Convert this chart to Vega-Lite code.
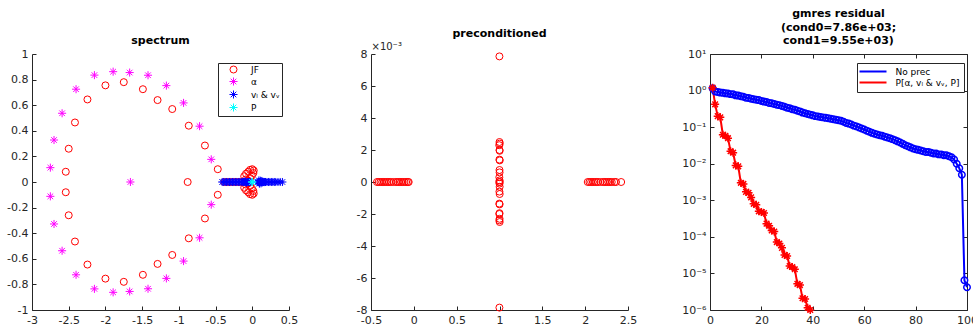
{
  "$schema": "https://vega.github.io/schema/vega-lite/v6.json",
  "padding": {"left": 6, "top": 8, "right": 0, "bottom": 0},
  "bounds": "flush",
  "spacing": 82,
  "datasets": {
    "spectrum": [
      {"series": "JF", "re": -2.0, "im": 0.755}, {"series": "JF", "re": -1.75, "im": 0.78}, {"series": "JF", "re": -1.49, "im": 0.725},
      {"series": "JF", "re": -1.29, "im": 0.64}, {"series": "JF", "re": -1.09, "im": 0.57}, {"series": "JF", "re": -0.865, "im": 0.44},
      {"series": "JF", "re": -0.645, "im": 0.285}, {"series": "JF", "re": -0.47, "im": 0.1}, {"series": "JF", "re": -0.88, "im": 0},
      {"series": "JF", "re": -0.47, "im": -0.1}, {"series": "JF", "re": -0.645, "im": -0.285}, {"series": "JF", "re": -0.865, "im": -0.44},
      {"series": "JF", "re": -1.09, "im": -0.57}, {"series": "JF", "re": -1.29, "im": -0.64}, {"series": "JF", "re": -1.49, "im": -0.725},
      {"series": "JF", "re": -1.75, "im": -0.78}, {"series": "JF", "re": -2.0, "im": -0.755}, {"series": "JF", "re": -2.245, "im": -0.645},
      {"series": "JF", "re": -2.415, "im": -0.465}, {"series": "JF", "re": -2.5, "im": -0.26}, {"series": "JF", "re": -2.54, "im": -0.08},
      {"series": "JF", "re": -2.54, "im": 0.08}, {"series": "JF", "re": -2.5, "im": 0.26}, {"series": "JF", "re": -2.415, "im": 0.465},
      {"series": "JF", "re": -2.245, "im": 0.645},
      {"series": "JF", "re": -0.09, "im": 0.02}, {"series": "JF", "re": -0.11, "im": 0.045}, {"series": "JF", "re": -0.085, "im": 0.065},
      {"series": "JF", "re": -0.055, "im": 0.08}, {"series": "JF", "re": -0.03, "im": 0.095}, {"series": "JF", "re": 0.0, "im": 0.1},
      {"series": "JF", "re": 0.02, "im": 0.09}, {"series": "JF", "re": 0.015, "im": 0.07}, {"series": "JF", "re": -0.005, "im": 0.05},
      {"series": "JF", "re": -0.03, "im": 0.03}, {"series": "JF", "re": -0.06, "im": 0.012},
      {"series": "JF", "re": -0.09, "im": -0.02}, {"series": "JF", "re": -0.11, "im": -0.045}, {"series": "JF", "re": -0.085, "im": -0.065},
      {"series": "JF", "re": -0.055, "im": -0.08}, {"series": "JF", "re": -0.03, "im": -0.095}, {"series": "JF", "re": 0.0, "im": -0.1},
      {"series": "JF", "re": 0.02, "im": -0.09}, {"series": "JF", "re": 0.015, "im": -0.07}, {"series": "JF", "re": -0.005, "im": -0.05},
      {"series": "JF", "re": -0.03, "im": -0.03}, {"series": "JF", "re": -0.06, "im": -0.012},
      {"series": "JF", "re": -0.38, "im": 0}, {"series": "JF", "re": -0.34, "im": 0}, {"series": "JF", "re": -0.3, "im": 0},
      {"series": "JF", "re": -0.26, "im": 0}, {"series": "JF", "re": -0.22, "im": 0}, {"series": "JF", "re": -0.18, "im": 0},
      {"series": "JF", "re": -0.14, "im": 0}, {"series": "JF", "re": -0.1, "im": 0},
      {"series": "α", "re": -2.15, "im": 0.835}, {"series": "α", "re": -1.895, "im": 0.862}, {"series": "α", "re": -1.67, "im": 0.855},
      {"series": "α", "re": -1.42, "im": 0.834}, {"series": "α", "re": -1.17, "im": 0.753}, {"series": "α", "re": -0.936, "im": 0.618},
      {"series": "α", "re": -0.718, "im": 0.436}, {"series": "α", "re": -0.559, "im": 0.177}, {"series": "α", "re": -0.559, "im": -0.177},
      {"series": "α", "re": -0.718, "im": -0.436}, {"series": "α", "re": -0.936, "im": -0.618}, {"series": "α", "re": -1.17, "im": -0.753},
      {"series": "α", "re": -1.42, "im": -0.834}, {"series": "α", "re": -1.67, "im": -0.855}, {"series": "α", "re": -1.895, "im": -0.862},
      {"series": "α", "re": -2.15, "im": -0.835}, {"series": "α", "re": -2.4, "im": -0.725}, {"series": "α", "re": -2.59, "im": -0.537},
      {"series": "α", "re": -2.7, "im": -0.328}, {"series": "α", "re": -2.75, "im": -0.112}, {"series": "α", "re": -2.75, "im": 0.112},
      {"series": "α", "re": -2.7, "im": 0.328}, {"series": "α", "re": -2.59, "im": 0.537}, {"series": "α", "re": -2.4, "im": 0.725},
      {"series": "α", "re": -1.66, "im": 0},
      {"series": "vₗ & vᵥ", "re": -0.41, "im": 0}, {"series": "vₗ & vᵥ", "re": -0.39, "im": 0}, {"series": "vₗ & vᵥ", "re": -0.37, "im": 0},
      {"series": "vₗ & vᵥ", "re": -0.35, "im": 0}, {"series": "vₗ & vᵥ", "re": -0.33, "im": 0}, {"series": "vₗ & vᵥ", "re": -0.31, "im": 0},
      {"series": "vₗ & vᵥ", "re": -0.29, "im": 0}, {"series": "vₗ & vᵥ", "re": -0.27, "im": 0}, {"series": "vₗ & vᵥ", "re": -0.25, "im": 0},
      {"series": "vₗ & vᵥ", "re": -0.23, "im": 0}, {"series": "vₗ & vᵥ", "re": -0.21, "im": 0}, {"series": "vₗ & vᵥ", "re": -0.19, "im": 0},
      {"series": "vₗ & vᵥ", "re": -0.17, "im": 0}, {"series": "vₗ & vᵥ", "re": -0.15, "im": 0}, {"series": "vₗ & vᵥ", "re": -0.13, "im": 0},
      {"series": "vₗ & vᵥ", "re": -0.12, "im": 0}, {"series": "vₗ & vᵥ", "re": -0.11, "im": 0}, {"series": "vₗ & vᵥ", "re": -0.1, "im": 0.006},
      {"series": "vₗ & vᵥ", "re": -0.09, "im": 0}, {"series": "vₗ & vᵥ", "re": -0.08, "im": -0.006}, {"series": "vₗ & vᵥ", "re": -0.07, "im": 0},
      {"series": "vₗ & vᵥ", "re": -0.06, "im": 0}, {"series": "vₗ & vᵥ", "re": -0.05, "im": 0}, {"series": "vₗ & vᵥ", "re": -0.04, "im": 0},
      {"series": "vₗ & vᵥ", "re": -0.03, "im": 0},
      {"series": "vₗ & vᵥ", "re": 0.08, "im": 0}, {"series": "vₗ & vᵥ", "re": 0.085, "im": 0}, {"series": "vₗ & vᵥ", "re": 0.09, "im": 0.012},
      {"series": "vₗ & vᵥ", "re": 0.095, "im": -0.01}, {"series": "vₗ & vᵥ", "re": 0.1, "im": 0}, {"series": "vₗ & vᵥ", "re": 0.1, "im": -0.012},
      {"series": "vₗ & vᵥ", "re": 0.105, "im": 0}, {"series": "vₗ & vᵥ", "re": 0.11, "im": 0.01}, {"series": "vₗ & vᵥ", "re": 0.115, "im": 0},
      {"series": "vₗ & vᵥ", "re": 0.12, "im": -0.01}, {"series": "vₗ & vᵥ", "re": 0.13, "im": 0.008}, {"series": "vₗ & vᵥ", "re": 0.13, "im": 0},
      {"series": "vₗ & vᵥ", "re": 0.14, "im": 0}, {"series": "vₗ & vᵥ", "re": 0.15, "im": 0}, {"series": "vₗ & vᵥ", "re": 0.16, "im": 0},
      {"series": "vₗ & vᵥ", "re": 0.17, "im": 0}, {"series": "vₗ & vᵥ", "re": 0.18, "im": 0}, {"series": "vₗ & vᵥ", "re": 0.2, "im": 0},
      {"series": "vₗ & vᵥ", "re": 0.22, "im": 0}, {"series": "vₗ & vᵥ", "re": 0.24, "im": 0}, {"series": "vₗ & vᵥ", "re": 0.26, "im": 0},
      {"series": "vₗ & vᵥ", "re": 0.28, "im": 0}, {"series": "vₗ & vᵥ", "re": 0.3, "im": 0}, {"series": "vₗ & vᵥ", "re": 0.32, "im": 0},
      {"series": "vₗ & vᵥ", "re": 0.35, "im": 0}, {"series": "vₗ & vᵥ", "re": 0.38, "im": 0}, {"series": "vₗ & vᵥ", "re": 0.41, "im": 0},
      {"series": "P", "re": -0.005, "im": 0}, {"series": "P", "re": 0.0, "im": 0}
    ],
    "precond": [
      {"re": -0.43, "im": 0}, {"re": -0.41, "im": 0}, {"re": -0.39, "im": 0}, {"re": -0.37, "im": 0}, {"re": -0.35, "im": 0},
      {"re": -0.33, "im": 0}, {"re": -0.31, "im": 0}, {"re": -0.29, "im": 0}, {"re": -0.27, "im": 0}, {"re": -0.24, "im": 0},
      {"re": -0.21, "im": 0}, {"re": -0.19, "im": 0}, {"re": -0.17, "im": 0}, {"re": -0.15, "im": 0}, {"re": -0.13, "im": 0},
      {"re": -0.11, "im": 0}, {"re": -0.09, "im": 0}, {"re": -0.07, "im": 0}, {"re": -0.06, "im": 0},
      {"re": 0.999, "im": 0.00785}, {"re": 0.999, "im": -0.00785},
      {"re": 1.0, "im": 0.0025}, {"re": 1.002, "im": -0.0025}, {"re": 1.003, "im": 0.0024}, {"re": 0.998, "im": -0.0024},
      {"re": 0.997, "im": 0.0023}, {"re": 1.001, "im": -0.0023}, {"re": 1.0, "im": 0.002}, {"re": 0.998, "im": -0.002},
      {"re": 1.002, "im": 0.00195}, {"re": 1.0, "im": -0.00195}, {"re": 0.999, "im": 0.0014}, {"re": 1.001, "im": -0.0014},
      {"re": 1.003, "im": 0.00135}, {"re": 0.998, "im": -0.00135}, {"re": 1.0, "im": 0.00075}, {"re": 1.002, "im": -0.00075},
      {"re": 1.001, "im": 0.0006}, {"re": 0.999, "im": -0.0006}, {"re": 0.998, "im": 0.0003}, {"re": 1.002, "im": -0.0003},
      {"re": 1.001, "im": 0.0001}, {"re": 1.0, "im": -0.0001}, {"re": 1.002, "im": 0}, {"re": 0.998, "im": 0},
      {"re": 2.03, "im": 0}, {"re": 2.05, "im": 0}, {"re": 2.07, "im": 0}, {"re": 2.09, "im": 0}, {"re": 2.11, "im": 0},
      {"re": 2.13, "im": 0}, {"re": 2.15, "im": 0}, {"re": 2.18, "im": 0}, {"re": 2.21, "im": 0}, {"re": 2.23, "im": 0},
      {"re": 2.25, "im": 0}, {"re": 2.27, "im": 0}, {"re": 2.29, "im": 0}, {"re": 2.31, "im": 0}, {"re": 2.34, "im": 0},
      {"re": 2.36, "im": 0}, {"re": 2.42, "im": 0}
    ],
    "residual": [
      {"method": "No prec", "it": 1, "res": 1.15}, {"method": "No prec", "it": 2, "res": 0.95}, {"method": "No prec", "it": 3, "res": 0.92},
      {"method": "No prec", "it": 4, "res": 0.88}, {"method": "No prec", "it": 5, "res": 0.87}, {"method": "No prec", "it": 6, "res": 0.84},
      {"method": "No prec", "it": 7, "res": 0.83}, {"method": "No prec", "it": 8, "res": 0.8}, {"method": "No prec", "it": 9, "res": 0.79},
      {"method": "No prec", "it": 10, "res": 0.74}, {"method": "No prec", "it": 11, "res": 0.73}, {"method": "No prec", "it": 12, "res": 0.7},
      {"method": "No prec", "it": 13, "res": 0.68}, {"method": "No prec", "it": 14, "res": 0.64}, {"method": "No prec", "it": 15, "res": 0.63},
      {"method": "No prec", "it": 16, "res": 0.6}, {"method": "No prec", "it": 17, "res": 0.58}, {"method": "No prec", "it": 18, "res": 0.56},
      {"method": "No prec", "it": 19, "res": 0.55}, {"method": "No prec", "it": 20, "res": 0.52}, {"method": "No prec", "it": 21, "res": 0.5},
      {"method": "No prec", "it": 22, "res": 0.49}, {"method": "No prec", "it": 23, "res": 0.46}, {"method": "No prec", "it": 24, "res": 0.45},
      {"method": "No prec", "it": 25, "res": 0.43}, {"method": "No prec", "it": 26, "res": 0.41}, {"method": "No prec", "it": 27, "res": 0.4},
      {"method": "No prec", "it": 28, "res": 0.38}, {"method": "No prec", "it": 29, "res": 0.36}, {"method": "No prec", "it": 30, "res": 0.34},
      {"method": "No prec", "it": 31, "res": 0.33}, {"method": "No prec", "it": 32, "res": 0.31}, {"method": "No prec", "it": 33, "res": 0.3},
      {"method": "No prec", "it": 34, "res": 0.28}, {"method": "No prec", "it": 35, "res": 0.27}, {"method": "No prec", "it": 36, "res": 0.25},
      {"method": "No prec", "it": 37, "res": 0.24}, {"method": "No prec", "it": 38, "res": 0.23}, {"method": "No prec", "it": 39, "res": 0.22},
      {"method": "No prec", "it": 40, "res": 0.21}, {"method": "No prec", "it": 41, "res": 0.2}, {"method": "No prec", "it": 42, "res": 0.195},
      {"method": "No prec", "it": 43, "res": 0.19}, {"method": "No prec", "it": 44, "res": 0.185}, {"method": "No prec", "it": 45, "res": 0.18},
      {"method": "No prec", "it": 46, "res": 0.175}, {"method": "No prec", "it": 47, "res": 0.17}, {"method": "No prec", "it": 48, "res": 0.165},
      {"method": "No prec", "it": 49, "res": 0.16}, {"method": "No prec", "it": 50, "res": 0.155}, {"method": "No prec", "it": 51, "res": 0.15},
      {"method": "No prec", "it": 52, "res": 0.14}, {"method": "No prec", "it": 53, "res": 0.13}, {"method": "No prec", "it": 54, "res": 0.125},
      {"method": "No prec", "it": 55, "res": 0.118}, {"method": "No prec", "it": 56, "res": 0.11}, {"method": "No prec", "it": 57, "res": 0.105},
      {"method": "No prec", "it": 58, "res": 0.098}, {"method": "No prec", "it": 59, "res": 0.092}, {"method": "No prec", "it": 60, "res": 0.086},
      {"method": "No prec", "it": 61, "res": 0.08}, {"method": "No prec", "it": 62, "res": 0.075}, {"method": "No prec", "it": 63, "res": 0.07},
      {"method": "No prec", "it": 64, "res": 0.066}, {"method": "No prec", "it": 65, "res": 0.063}, {"method": "No prec", "it": 66, "res": 0.06},
      {"method": "No prec", "it": 67, "res": 0.058}, {"method": "No prec", "it": 68, "res": 0.055}, {"method": "No prec", "it": 69, "res": 0.052},
      {"method": "No prec", "it": 70, "res": 0.05}, {"method": "No prec", "it": 71, "res": 0.047}, {"method": "No prec", "it": 72, "res": 0.044},
      {"method": "No prec", "it": 73, "res": 0.041}, {"method": "No prec", "it": 74, "res": 0.038}, {"method": "No prec", "it": 75, "res": 0.035},
      {"method": "No prec", "it": 76, "res": 0.032}, {"method": "No prec", "it": 77, "res": 0.03}, {"method": "No prec", "it": 78, "res": 0.028},
      {"method": "No prec", "it": 79, "res": 0.026}, {"method": "No prec", "it": 80, "res": 0.025}, {"method": "No prec", "it": 81, "res": 0.024},
      {"method": "No prec", "it": 82, "res": 0.023}, {"method": "No prec", "it": 83, "res": 0.022}, {"method": "No prec", "it": 84, "res": 0.021},
      {"method": "No prec", "it": 85, "res": 0.021}, {"method": "No prec", "it": 86, "res": 0.02}, {"method": "No prec", "it": 87, "res": 0.019},
      {"method": "No prec", "it": 88, "res": 0.019}, {"method": "No prec", "it": 89, "res": 0.018}, {"method": "No prec", "it": 90, "res": 0.018},
      {"method": "No prec", "it": 91, "res": 0.017}, {"method": "No prec", "it": 92, "res": 0.017}, {"method": "No prec", "it": 93, "res": 0.016},
      {"method": "No prec", "it": 94, "res": 0.015}, {"method": "No prec", "it": 95, "res": 0.013}, {"method": "No prec", "it": 96, "res": 0.01},
      {"method": "No prec", "it": 97, "res": 0.0075}, {"method": "No prec", "it": 98, "res": 0.005}, {"method": "No prec", "it": 99, "res": 0.0000065},
      {"method": "No prec", "it": 100, "res": 0.0000042},
      {"method": "P[α, vₗ & vᵥ, P]", "it": 1, "res": 1.2}, {"method": "P[α, vₗ & vᵥ, P]", "it": 2, "res": 0.42},
      {"method": "P[α, vₗ & vᵥ, P]", "it": 3, "res": 0.2}, {"method": "P[α, vₗ & vᵥ, P]", "it": 4, "res": 0.185},
      {"method": "P[α, vₗ & vᵥ, P]", "it": 5, "res": 0.062}, {"method": "P[α, vₗ & vᵥ, P]", "it": 6, "res": 0.058},
      {"method": "P[α, vₗ & vᵥ, P]", "it": 7, "res": 0.05}, {"method": "P[α, vₗ & vᵥ, P]", "it": 8, "res": 0.022},
      {"method": "P[α, vₗ & vᵥ, P]", "it": 9, "res": 0.02}, {"method": "P[α, vₗ & vᵥ, P]", "it": 10, "res": 0.009},
      {"method": "P[α, vₗ & vᵥ, P]", "it": 11, "res": 0.0085}, {"method": "P[α, vₗ & vᵥ, P]", "it": 12, "res": 0.003},
      {"method": "P[α, vₗ & vᵥ, P]", "it": 13, "res": 0.0028}, {"method": "P[α, vₗ & vᵥ, P]", "it": 14, "res": 0.0017},
      {"method": "P[α, vₗ & vᵥ, P]", "it": 15, "res": 0.0016}, {"method": "P[α, vₗ & vᵥ, P]", "it": 16, "res": 0.0012},
      {"method": "P[α, vₗ & vᵥ, P]", "it": 17, "res": 0.0008}, {"method": "P[α, vₗ & vᵥ, P]", "it": 18, "res": 0.00075},
      {"method": "P[α, vₗ & vᵥ, P]", "it": 19, "res": 0.0005}, {"method": "P[α, vₗ & vᵥ, P]", "it": 20, "res": 0.00048},
      {"method": "P[α, vₗ & vᵥ, P]", "it": 21, "res": 0.00045}, {"method": "P[α, vₗ & vᵥ, P]", "it": 22, "res": 0.00023},
      {"method": "P[α, vₗ & vᵥ, P]", "it": 23, "res": 0.0002}, {"method": "P[α, vₗ & vᵥ, P]", "it": 24, "res": 0.00015},
      {"method": "P[α, vₗ & vᵥ, P]", "it": 25, "res": 0.00014}, {"method": "P[α, vₗ & vᵥ, P]", "it": 26, "res": 0.000072},
      {"method": "P[α, vₗ & vᵥ, P]", "it": 27, "res": 0.000066}, {"method": "P[α, vₗ & vᵥ, P]", "it": 28, "res": 0.00005},
      {"method": "P[α, vₗ & vᵥ, P]", "it": 29, "res": 0.000032}, {"method": "P[α, vₗ & vᵥ, P]", "it": 30, "res": 0.00003},
      {"method": "P[α, vₗ & vᵥ, P]", "it": 31, "res": 0.000016}, {"method": "P[α, vₗ & vᵥ, P]", "it": 32, "res": 0.000015},
      {"method": "P[α, vₗ & vᵥ, P]", "it": 33, "res": 0.000013}, {"method": "P[α, vₗ & vᵥ, P]", "it": 34, "res": 0.0000052},
      {"method": "P[α, vₗ & vᵥ, P]", "it": 35, "res": 0.0000048}, {"method": "P[α, vₗ & vᵥ, P]", "it": 36, "res": 0.0000021},
      {"method": "P[α, vₗ & vᵥ, P]", "it": 37, "res": 0.000002}, {"method": "P[α, vₗ & vᵥ, P]", "it": 38, "res": 0.00000115},
      {"method": "P[α, vₗ & vᵥ, P]", "it": 39, "res": 0.000001}
    ]
  },
  "hconcat": [
    {
      "width": 257,
      "height": 256,
      "title": "spectrum",
      "data": {"name": "spectrum"},
      "mark": {"type": "point", "filled": false, "opacity": 1, "size": 49, "strokeWidth": 1},
      "encoding": {
        "x": {
          "field": "re", "type": "quantitative",
          "scale": {"domain": [-3, 0.5], "nice": false, "zero": false},
          "axis": {"title": null, "values": [-3, -2.5, -2, -1.5, -1, -0.5, 0, 0.5], "labelExpr": "replace(format(datum.value, '~g'), '−', '-')"}
        },
        "y": {
          "field": "im", "type": "quantitative",
          "scale": {"domain": [-1, 1], "nice": false, "zero": false},
          "axis": {"title": null, "values": [-1, -0.8, -0.6, -0.4, -0.2, 0, 0.2, 0.4, 0.6, 0.8, 1], "labelExpr": "replace(format(datum.value, '~g'), '−', '-')"}
        },
        "stroke": {
          "field": "series", "type": "nominal",
          "scale": {"domain": ["JF", "α", "vₗ & vᵥ", "P"], "range": ["#ff0000", "#ff00ff", "#0000ff", "#00ffff"]},
          "legend": {"title": null, "orient": "none", "legendX": 186, "legendY": 9, "strokeColor": "#262626", "fillColor": "#ffffff", "padding": 2, "rowPadding": 0, "symbolSize": 49, "symbolStrokeWidth": 1, "symbolOffset": 9, "labelOffset": 13, "labelFontSize": 9, "labelColor": "#000000"}
        },
        "shape": {
          "field": "series", "type": "nominal",
          "scale": {"domain": ["JF", "α", "vₗ & vᵥ", "P"], "range": ["circle", "M-1.15,0H1.15M0,-1.15V1.15M-0.8,-0.8L0.8,0.8M-0.8,0.8L0.8,-0.8", "M-1.15,0H1.15M0,-1.15V1.15M-0.8,-0.8L0.8,0.8M-0.8,0.8L0.8,-0.8", "M-1.15,0H1.15M0,-1.15V1.15M-0.8,-0.8L0.8,0.8M-0.8,0.8L0.8,-0.8"]},
          "legend": {"title": null, "orient": "none", "legendX": 186, "legendY": 9, "strokeColor": "#262626", "fillColor": "#ffffff", "padding": 2, "rowPadding": 0, "symbolSize": 49, "symbolStrokeWidth": 1, "symbolOffset": 9, "labelOffset": 13, "labelFontSize": 9, "labelColor": "#000000"}
        }
      }
    },
    {
      "width": 257,
      "height": 256,
      "title": "preconditioned",
      "data": {"name": "precond"},
      "mark": {"type": "point", "filled": false, "opacity": 1, "size": 49, "strokeWidth": 1, "color": "#ff0000"},
      "encoding": {
        "x": {
          "field": "re", "type": "quantitative",
          "scale": {"domain": [-0.5, 2.5], "nice": false, "zero": false},
          "axis": {"title": null, "values": [-0.5, 0, 0.5, 1, 1.5, 2, 2.5], "labelExpr": "replace(format(datum.value, '~g'), '−', '-')"}
        },
        "y": {
          "field": "im", "type": "quantitative",
          "scale": {"domain": [-0.008, 0.008], "nice": false, "zero": false},
          "axis": {
            "values": [-0.008, -0.006, -0.004, -0.002, 0, 0.002, 0.004, 0.006, 0.008],
            "labelExpr": "replace(format(round(datum.value * 1000), 'd'), '−', '-')",
            "title": "×10⁻³", "titleAngle": 0, "titleAlign": "left", "titleBaseline": "alphabetic",
            "titleX": 0, "titleY": -5, "titleFontWeight": "normal", "titleFontSize": 10, "titleColor": "#262626"
          }
        }
      }
    },
    {
      "width": 257,
      "height": 256,
      "title": {"text": ["gmres residual", "(cond0=7.86e+03;", "cond1=9.55e+03)"]},
      "data": {"name": "residual"},
      "layer": [
        {
          "mark": {"type": "line", "strokeWidth": 2},
          "encoding": {
            "x": {
              "field": "it", "type": "quantitative",
              "scale": {"domain": [0, 100], "nice": false, "zero": false},
              "axis": {"title": null, "values": [0, 20, 40, 60, 80, 100]}
            },
            "y": {
              "field": "res", "type": "quantitative",
              "scale": {"type": "log", "domain": [0.000001, 10], "nice": false},
              "axis": {"title": null, "values": [0.000001, 0.00001, 0.0001, 0.001, 0.01, 0.1, 1, 10],
                "labelExpr": "['10⁻⁶','10⁻⁵','10⁻⁴','10⁻³','10⁻²','10⁻¹','10⁰','10¹'][round(log(datum.value) / LN10) + 6]"}
            },
            "color": {
              "field": "method", "type": "nominal",
              "scale": {"domain": ["No prec", "P[α, vₗ & vᵥ, P]"], "range": ["#0000ff", "#ff0000"]},
              "legend": {"title": null, "orient": "none", "legendX": 825, "legendY": 9, "strokeColor": "#262626", "fillColor": "#ffffff", "padding": 4, "rowPadding": 1, "symbolType": "M-4.5,0H4.5", "symbolSize": 36, "symbolStrokeWidth": 2, "symbolOffset": 7.5, "labelOffset": 18, "labelFontSize": 9, "labelColor": "#000000"}
            }
          }
        },
        {
          "transform": [{"filter": "datum.method === 'No prec'"}],
          "mark": {"type": "point", "shape": "circle", "filled": false, "opacity": 1, "size": 42, "strokeWidth": 1.5, "color": "#0000ff"},
          "encoding": {
            "x": {
              "field": "it", "type": "quantitative",
              "axis": {"orient": "top", "title": null, "labels": false, "values": [0, 20, 40, 60, 80, 100]}
            },
            "y": {
              "field": "res", "type": "quantitative",
              "axis": {"orient": "right", "title": null, "labels": false, "values": [0.000001, 0.00001, 0.0001, 0.001, 0.01, 0.1, 1, 10]}
            }
          }
        },
        {
          "transform": [{"filter": "datum.method !== 'No prec'"}],
          "mark": {"type": "point", "shape": "M-1.15,0H1.15M0,-1.15V1.15M-0.8,-0.8L0.8,0.8M-0.8,0.8L0.8,-0.8", "filled": false, "opacity": 1, "size": 49, "strokeWidth": 1.5, "color": "#ff0000"},
          "encoding": {
            "x": {"field": "it", "type": "quantitative", "axis": null},
            "y": {"field": "res", "type": "quantitative", "axis": null}
          }
        }
      ],
      "resolve": {"axis": {"x": "independent", "y": "independent"}}
    }
  ],
  "config": {
    "font": "DejaVu Sans",
    "view": {"stroke": null},
    "axis": {
      "grid": false,
      "domainColor": "#262626",
      "tickColor": "#262626",
      "labelColor": "#262626",
      "labelFont": "DejaVu Sans",
      "labelFontSize": 11,
      "tickSize": -4,
      "labelPadding": 8,
      "labelOverlap": false,
      "labelBound": false,
      "labelFlush": false
    },
    "title": {
      "font": "DejaVu Sans",
      "fontSize": 11,
      "fontWeight": "bold",
      "color": "#000000",
      "offset": 2,
      "frame": "group",
      "lineHeight": 13.5
    },
    "legend": {
      "labelFont": "DejaVu Sans",
      "cornerRadius": 0
    }
  }
}
